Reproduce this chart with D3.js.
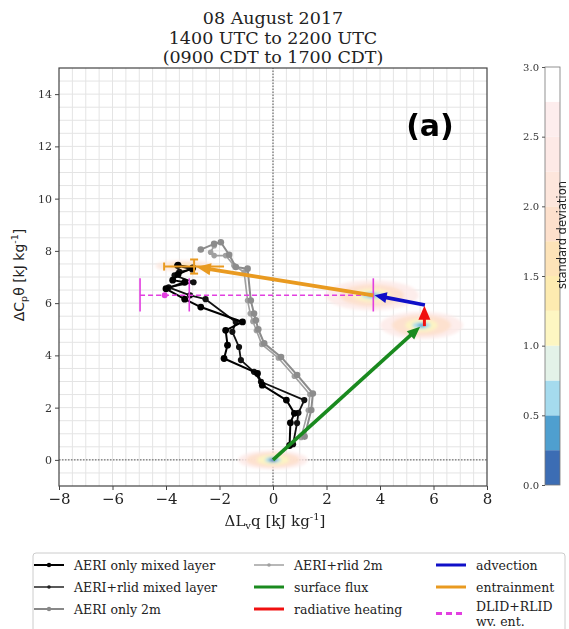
<!DOCTYPE html>
<html>
<head>
<meta charset="utf-8">
<script src="https://cdn.jsdelivr.net/npm/d3@7"></script>
<style>
  body { margin: 0; background: #fff; }
  svg { display: block; font-family: "DejaVu Serif", serif; }
</style>
</head>
<body>
<div id="chart"></div>
<script>
// ---- data ----
const titleLines = ["08 August 2017", "1400 UTC to 2200 UTC", "(0900 CDT to 1700 CDT)"];
const xTicks = [-8, -6, -4, -2, 0, 2, 4, 6, 8];
const yTicks = [0, 2, 4, 6, 8, 10, 12, 14];
const cbTicks = [0, 0.5, 1, 1.5, 2, 2.5, 3];
const cbBounds = [0, 0.25, 0.5, 0.75, 1, 1.25, 1.5, 1.75, 2, 2.25, 2.5, 2.75, 3];
const cbColors = ["#3c6db4", "#4f9fcf", "#a5dbee", "#e3f2e8", "#fdf6c2", "#fdebb0",
                  "#fde3b8", "#fde0cc", "#fde6dc", "#fde9e6", "#fdeded", "#ffffff"];

// AERI only mixed layer
const mlAeriX = [0.62, 0.65, 0.8, 0.5, -0.4, -0.58, -1.83, -1.7, -1.77, -1.14, -2.7, -3.3, -4.0, -3.3, -3.75, -3.55, -3.0, -3.55];
const mlAeriY = [0.55, 1.42, 1.78, 2.29, 2.86, 3.31, 3.88, 4.39, 4.96, 5.28, 5.85, 6.15, 6.55, 6.8, 6.88, 7.1, 7.35, 7.45];
// AERI+rlid mixed layer
const mlRlidX = [0.75, 0.9, 0.95, 1.17, -0.45, -0.71, -1.2, -1.27, -1.52, -1.39, -2.52, -3.1, -3.9, -2.97, -3.68, -3.5, -3.02, -3.58];
const mlRlidY = [0.6, 1.41, 1.8, 2.29, 2.99, 3.37, 3.82, 4.32, 4.9, 5.28, 6.15, 6.3, 6.6, 6.8, 7.06, 7.2, 7.29, 7.44];
// AERI only 2m
const sfAeriX = [1.18, 1.43, 1.49, 0.9, 0.3, -0.33, -0.55, -0.64, -0.71, -0.83, -0.95, -1.39, -1.64, -1.95, -2.2, -2.7];
const sfAeriY = [0.89, 1.91, 2.54, 3.25, 3.94, 4.46, 5.0, 5.34, 5.6, 6.1, 7.32, 7.38, 7.85, 8.33, 8.27, 8.05];
// AERI+rlid 2m
const sfRlidX = [1.05, 1.32, 1.38, 0.8, 0.2, -0.42, -0.62, -0.75, -0.85, -0.95, -1.08, -1.46, -1.77, -2.2, -2.33, -2.2];
const sfRlidY = [0.86, 1.9, 2.5, 3.2, 3.9, 4.42, 4.95, 5.3, 5.6, 6.1, 7.19, 7.44, 7.82, 7.82, 7.95, 8.2];

// budget arrows [start, end]
const surfaceFlux = [[0, 0], [5.5, 5.1]];
const radiative = [[5.66, 5.12], [5.66, 5.9]];
const advection = [[5.68, 5.93], [3.8, 6.3]];
const entrainment = [[3.75, 6.3], [-2.85, 7.38]];

// entrainment error bar (centre, x error, y error)
const entErr = { x: -2.95, y: 7.4, xe: 1.12, ye: 0.27 };
// DLID+RLID water vapour entrainment
const wvLineX = [-4.97, 3.75];
const wvY = 6.3;
const wvPoint = [-4.05, 6.3];
const wvBarsX = [-4.97, -3.13, 3.75];
const wvBarY = [5.68, 6.95];

// standard deviation clouds: centre, radii per level, sd per level
const blobs = [
  { x: 0, y: 0, rx: [1.3, 1.0, 0.6, 0.3, 0.14], ry: [0.36, 0.28, 0.2, 0.12, 0.07], sd: [2.4, 1.9, 1.1, 0.6, 0.1] },
  { x: 5.55, y: 5.15, rx: [1.55, 1.1, 0.6, 0.35, 0.15], ry: [0.52, 0.4, 0.25, 0.13, 0.07], sd: [2.4, 1.9, 1.2, 0.6, 0.3] },
  { x: 3.7, y: 6.3, rx: [1.75, 1.2, 0.7, 0.4, 0.15], ry: [0.58, 0.42, 0.25, 0.13, 0.07], sd: [2.4, 1.9, 1.2, 0.6, 0.3] },
  { x: -3.3, y: 7.42, rx: [1.1, 0.6], ry: [0.22, 0.12], sd: [2.2, 1.6] }
];

// ---- layout ----
const width = 569, height = 629;
const x = d3.scaleLinear().domain([-8, 8]).range([59, 487]);
const y = d3.scaleLinear().domain([-1, 15]).range([486, 68]);
const cb = d3.scaleLinear().domain([0, 3]).range([485, 67]);
const sdColor = d3.scaleThreshold().domain(cbBounds.slice(1, -1)).range(cbColors);

const svg = d3.select("#chart").append("svg")
    .attr("width", width).attr("height", height);

// title
svg.append("g").selectAll("text")
  .data(titleLines)
  .join("text")
    .attr("x", 273)
    .attr("y", (d, i) => 24 + i * 19.5)
    .attr("text-anchor", "middle")
    .attr("font-size", 17.5)
    .attr("fill", "#222")
    .text(d => d);

// grid every 0.5
const plot = svg.append("g");
plot.append("rect")
    .attr("x", x(-8)).attr("y", y(15))
    .attr("width", x(8) - x(-8)).attr("height", y(-1) - y(15))
    .attr("fill", "#fff");
plot.selectAll(".gx").data(d3.range(-7.5, 8, 0.5)).join("line")
    .attr("x1", d => x(d)).attr("x2", d => x(d))
    .attr("y1", y(-1)).attr("y2", y(15))
    .attr("stroke", "#e4e4e4").attr("stroke-width", 1);
plot.selectAll(".gy").data(d3.range(-0.5, 15, 0.5)).join("line")
    .attr("y1", d => y(d)).attr("y2", d => y(d))
    .attr("x1", x(-8)).attr("x2", x(8))
    .attr("stroke", "#e4e4e4").attr("stroke-width", 1);

// zero lines
plot.append("line")
    .attr("x1", x(0)).attr("x2", x(0)).attr("y1", y(-1)).attr("y2", y(15))
    .attr("stroke", "#555").attr("stroke-width", 1).attr("stroke-dasharray", "1.5,1.5");
plot.append("line")
    .attr("x1", x(-8)).attr("x2", x(8)).attr("y1", y(0)).attr("y2", y(0))
    .attr("stroke", "#555").attr("stroke-width", 1).attr("stroke-dasharray", "1.5,1.5");

// clouds
const defs = svg.append("defs");
defs.append("filter").attr("id", "blur")
  .append("feGaussianBlur").attr("stdDeviation", 1.6);
const cloud = plot.append("g").attr("filter", "url(#blur)");
blobs.forEach(b => {
  b.rx.forEach((r, i) => {
    cloud.append("ellipse")
        .attr("cx", x(b.x)).attr("cy", y(b.y))
        .attr("rx", x(r) - x(0)).attr("ry", y(0) - y(b.ry[i]))
        .attr("fill", sdColor(b.sd[i]))
        .attr("opacity", i === 0 ? 0.8 : 0.9);
  });
});

// profile lines
function profile(xs, ys, color, lw, r) {
  const pts = xs.map((v, i) => [x(v), y(ys[i])]);
  plot.append("path")
      .attr("d", d3.line()(pts))
      .attr("fill", "none").attr("stroke", color).attr("stroke-width", lw)
      .attr("stroke-linejoin", "round");
  plot.append("g").selectAll("circle").data(pts).join("circle")
      .attr("cx", d => d[0]).attr("cy", d => d[1]).attr("r", r)
      .attr("fill", color);
}
profile(sfRlidX, sfRlidY, "#a0a0a0", 1.6, 2.8);
profile(sfAeriX, sfAeriY, "#8c8c8c", 2, 3.3);
profile(mlRlidX, mlRlidY, "#111", 1.8, 3.1);
profile(mlAeriX, mlAeriY, "#000", 2, 3.4);

// water vapour entrainment
const wvColor = "#e23fe0";
plot.append("line")
    .attr("x1", x(wvLineX[0])).attr("x2", x(wvLineX[1]))
    .attr("y1", y(wvY)).attr("y2", y(wvY))
    .attr("stroke", wvColor).attr("stroke-width", 1.6).attr("stroke-dasharray", "5,3");
plot.selectAll(".wvbar").data(wvBarsX).join("line")
    .attr("x1", d => x(d)).attr("x2", d => x(d))
    .attr("y1", y(wvBarY[0])).attr("y2", y(wvBarY[1]))
    .attr("stroke", wvColor).attr("stroke-width", 1.6);
plot.append("circle")
    .attr("cx", x(wvPoint[0])).attr("cy", y(wvPoint[1])).attr("r", 3)
    .attr("fill", wvColor);

// arrows
function arrow(seg, color, lw, headLen, headW) {
  const [x0, y0] = [x(seg[0][0]), y(seg[0][1])];
  const [x1, y1] = [x(seg[1][0]), y(seg[1][1])];
  const len = Math.hypot(x1 - x0, y1 - y0);
  const ux = (x1 - x0) / len, uy = (y1 - y0) / len;
  const bx = x1 - ux * headLen, by = y1 - uy * headLen;
  plot.append("line")
      .attr("x1", x0).attr("y1", y0).attr("x2", bx + ux).attr("y2", by + uy)
      .attr("stroke", color).attr("stroke-width", lw);
  plot.append("polygon")
      .attr("points", [[x1, y1], [bx - uy * headW / 2, by + ux * headW / 2],
                       [bx + uy * headW / 2, by - ux * headW / 2]].map(p => p.join(",")).join(" "))
      .attr("fill", color);
}
const entColor = "#e99a20";
arrow(surfaceFlux, "#1a8a1f", 3.6, 13, 11);
arrow(entrainment, entColor, 3.8, 14, 12);
arrow(advection, "#1010c8", 3.6, 12, 11);
arrow(radiative, "#f01010", 3, 14, 12);

// entrainment error bar
const eb = plot.append("g").attr("stroke", entColor).attr("stroke-width", 2);
eb.append("line").attr("x1", x(entErr.x - entErr.xe)).attr("x2", x(entErr.x + entErr.xe))
    .attr("y1", y(entErr.y)).attr("y2", y(entErr.y));
eb.append("line").attr("x1", x(entErr.x)).attr("x2", x(entErr.x))
    .attr("y1", y(entErr.y - entErr.ye)).attr("y2", y(entErr.y + entErr.ye));
eb.append("line").attr("x1", x(entErr.x - entErr.xe)).attr("x2", x(entErr.x - entErr.xe))
    .attr("y1", y(entErr.y) - 4).attr("y2", y(entErr.y) + 4);
[entErr.y - entErr.ye, entErr.y + entErr.ye].forEach(v => {
  eb.append("line").attr("x1", x(entErr.x) - 4).attr("x2", x(entErr.x) + 4)
      .attr("y1", y(v)).attr("y2", y(v));
});

// frame
svg.append("rect")
    .attr("x", x(-8)).attr("y", y(15))
    .attr("width", x(8) - x(-8)).attr("height", y(-1) - y(15))
    .attr("fill", "none").attr("stroke", "#444").attr("stroke-width", 1.2);

// axes
const xa = svg.append("g")
    .attr("transform", `translate(0,${y(-1)})`)
    .call(d3.axisBottom(x).tickValues(xTicks).tickSize(4).tickPadding(3));
xa.select(".domain").remove();
xa.selectAll("text").attr("font-size", 15).attr("font-family", "DejaVu Serif").attr("fill", "#222");
xa.selectAll("line").attr("stroke", "#444");

const ya = svg.append("g")
    .attr("transform", `translate(${x(-8)},0)`)
    .call(d3.axisLeft(y).tickValues(yTicks).tickSize(4).tickPadding(3));
ya.select(".domain").remove();
ya.selectAll("text").attr("font-size", 11).attr("font-family", "DejaVu Serif").attr("fill", "#333");
ya.selectAll("line").attr("stroke", "#444");

// axis labels
const xl = svg.append("text")
    .attr("x", 275).attr("y", 526)
    .attr("text-anchor", "middle").attr("font-size", 15).attr("fill", "#222");
xl.append("tspan").text("ΔL");
xl.append("tspan").attr("font-size", 10).attr("dy", 3).text("v");
xl.append("tspan").attr("dy", -3).text("q [kJ kg");
xl.append("tspan").attr("font-size", 10).attr("dy", -6).text("-1");
xl.append("tspan").attr("dy", 6).text("]");

const yl = svg.append("text")
    .attr("transform", "translate(24,275) rotate(-90)")
    .attr("text-anchor", "middle").attr("font-size", 14)
    .attr("font-family", "DejaVu Sans").attr("fill", "#222");
yl.append("tspan").text("ΔC");
yl.append("tspan").attr("font-size", 9.5).attr("dy", 3).text("p");
yl.append("tspan").attr("dy", -3).text("θ [kJ kg");
yl.append("tspan").attr("font-size", 9.5).attr("dy", -6).text("-1");
yl.append("tspan").attr("dy", 6).text("]");

// panel label
svg.append("text")
    .attr("x", 430).attr("y", 136)
    .attr("text-anchor", "middle")
    .attr("font-family", "DejaVu Sans").attr("font-weight", "bold")
    .attr("font-size", 30).attr("fill", "#000")
    .text("(a)");

// colorbar
const cbx = 545, cbw = 15;
svg.append("g").selectAll("rect")
  .data(cbColors)
  .join("rect")
    .attr("x", cbx).attr("width", cbw)
    .attr("y", (d, i) => cb(cbBounds[i + 1]))
    .attr("height", (d, i) => cb(cbBounds[i]) - cb(cbBounds[i + 1]))
    .attr("fill", d => d);
svg.append("rect")
    .attr("x", cbx).attr("y", cb(3)).attr("width", cbw).attr("height", cb(0) - cb(3))
    .attr("fill", "none").attr("stroke", "#777").attr("stroke-width", 0.8);
const ca = svg.append("g")
    .attr("transform", `translate(${cbx},0)`)
    .call(d3.axisLeft(cb).tickValues(cbTicks).tickFormat(d3.format(".1f")).tickSize(3).tickPadding(3));
ca.select(".domain").remove();
ca.selectAll("text").attr("font-size", 10).attr("font-family", "DejaVu Serif").attr("fill", "#333");
ca.selectAll("line").attr("stroke", "#555");
svg.append("text")
    .attr("transform", "translate(566,235) rotate(-90)")
    .attr("text-anchor", "middle").attr("font-size", 11.5)
    .attr("font-family", "DejaVu Sans").attr("fill", "#222")
    .text("standard deviation");

// legend
const legend = [
  { col: 0, row: 0, label: ["AERI only mixed layer"], color: "#000", lw: 2, r: 2.2 },
  { col: 0, row: 1, label: ["AERI+rlid mixed layer"], color: "#222", lw: 1.5, r: 1.8 },
  { col: 0, row: 2, label: ["AERI only 2m"], color: "#888", lw: 2, r: 2.2 },
  { col: 1, row: 0, label: ["AERI+rlid 2m"], color: "#a0a0a0", lw: 1.5, r: 1.8 },
  { col: 1, row: 1, label: ["surface flux"], color: "#1a8a1f", lw: 3, r: 0 },
  { col: 1, row: 2, label: ["radiative heating"], color: "#f01010", lw: 3, r: 0 },
  { col: 2, row: 0, label: ["advection"], color: "#1010c8", lw: 3, r: 0 },
  { col: 2, row: 1, label: ["entrainment"], color: entColor, lw: 3, r: 0 },
  { col: 2, row: 2.2, label: ["DLID+RLID", "wv. ent."], color: wvColor, lw: 3, r: 0, dash: "6,4" }
];
const colX = [34, 254, 436];
const rowY = 565, rowH = 22;
svg.append("rect")
    .attr("x", 33).attr("y", 553).attr("width", 532).attr("height", 90).attr("rx", 3)
    .attr("fill", "#fff").attr("stroke", "#ccc");
const lg = svg.append("g").selectAll("g").data(legend).join("g")
    .attr("transform", d => `translate(${colX[d.col]},${rowY + d.row * rowH})`);
lg.append("line")
    .attr("x1", 0).attr("x2", 30).attr("y1", 0).attr("y2", 0)
    .attr("stroke", d => d.color).attr("stroke-width", d => d.lw)
    .attr("stroke-dasharray", d => d.dash || null);
lg.filter(d => d.r > 0).append("circle")
    .attr("cx", 15).attr("cy", 0).attr("r", d => d.r).attr("fill", d => d.color);
lg.each(function(d) {
  const t = d3.select(this).append("text")
      .attr("x", 40).attr("y", d.label.length > 1 ? -2.5 : 4.5)
      .attr("font-size", 12.5).attr("fill", "#222");
  d.label.forEach((s, i) => t.append("tspan").attr("x", 40).attr("dy", i ? 15 : 0).text(s));
});
</script>
</body>
</html>
